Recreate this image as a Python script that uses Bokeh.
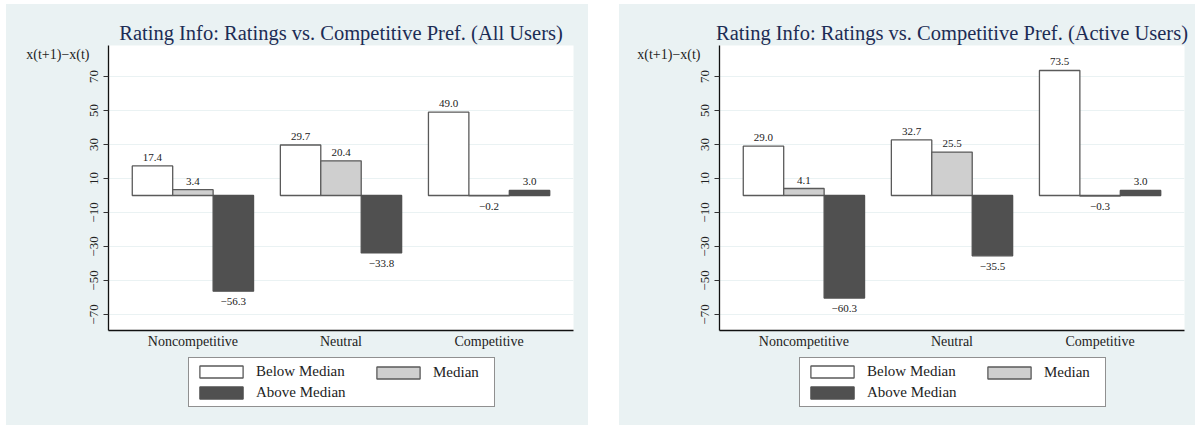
import numpy as np
from bokeh.plotting import figure
from bokeh.models import (ColumnDataSource, FactorRange, Range1d, FixedTicker, Label,
                          Legend, LegendItem, LinearAxis)
from bokeh.transform import dodge
from bokeh.layouts import row, column
from bokeh.embed import file_html
from bokeh.resources import INLINE

# ---------------- data ----------------
categories = ["Noncompetitive", "Neutral", "Competitive"]
series_names = ["Below Median", "Median", "Above Median"]

all_below = [17.4, 29.7, 49.0]
all_median = [3.4, 20.4, -0.2]
all_above = [-56.3, -33.8, 3.0]

active_below = [29.0, 32.7, 73.5]
active_median = [4.1, 25.5, -0.3]
active_above = [-60.3, -35.5, 3.0]

y_ticks = [-70, -50, -30, -10, 10, 30, 50, 70]
y_title = "x(t+1)\u2212x(t)"
titles = ["Rating Info: Ratings vs. Competitive Pref. (All Users)",
          "Rating Info: Ratings vs. Competitive Pref. (Active Users)"]

# ---------------- style ----------------
FONT = "Liberation Serif"
BG = "#EAF2F3"
fills = ["#FFFFFF", "#CFCFCF", "#505050"]
lines = ["#5A5A5A", "#5A5A5A", "#505050"]
offsets = [-0.273, 0.0, 0.273]
BAR_W = 0.273
X_PAD = 0.07
Y_MIN, Y_MAX = -79.4, 88.2
HAS_ORIENT = "axis_label_orientation" in LinearAxis.properties()


def fmt(v):
    return f"{v:.1f}".replace("-", "\u2212")


def make_main(title, below, median, above, width, border_left, border_right):
    p = figure(x_range=FactorRange(factors=categories, range_padding=X_PAD,
                                   range_padding_units="absolute"),
               y_range=Range1d(Y_MIN, Y_MAX),
               width=width, height=348, output_backend="svg", toolbar_location=None,
               min_border_left=border_left, min_border_right=border_right,
               min_border_top=41, min_border_bottom=22,
               background_fill_color="white", border_fill_color=BG,
               outline_line_color=None)
    p.title.text = title
    p.title.align = "center"
    p.title.text_font = FONT
    p.title.text_font_size = "20.5px"
    p.title.text_font_style = "normal"
    p.title.text_color = "#1C2C55"
    p.title.standoff = 4

    for vals, fc, lc, off in zip([below, median, above], fills, lines, offsets):
        src = ColumnDataSource(dict(
            x=categories, top=vals,
            lbl=[fmt(v) for v in vals],
            base=["bottom" if v >= 0 else "top" for v in vals],
            yoff=[-5 if v >= 0 else 7 for v in vals],
        ))
        p.vbar(x=dodge("x", off, range=p.x_range), top="top", bottom=0, width=BAR_W,
               source=src, fill_color=fc, line_color=lc, line_width=1.3)
        p.text(x=dodge("x", off, range=p.x_range), y="top", text="lbl", source=src,
               text_align="center", text_baseline="base", y_offset="yoff",
               text_font_size="11px", text_font=FONT, text_color="#222222")

    # axes
    p.yaxis.ticker = FixedTicker(ticks=y_ticks)
    p.yaxis.major_label_overrides = {t: str(t).replace("-", "\u2212") for t in y_ticks}
    p.yaxis.major_label_orientation = "vertical"
    p.yaxis.major_label_text_font = FONT
    p.yaxis.major_label_text_font_size = "13px"
    p.yaxis.major_label_text_color = "#222222"
    p.yaxis.major_label_standoff = 5
    p.yaxis.major_tick_out = 5
    p.yaxis.major_tick_in = 0
    p.yaxis.major_tick_line_color = "#333333"
    p.yaxis.minor_tick_line_color = None
    p.yaxis.axis_line_color = "#111111"
    p.yaxis.axis_line_width = 1.3

    p.xaxis.major_tick_line_color = None
    p.xaxis.major_tick_out = 0
    p.xaxis.major_tick_in = 0
    p.xaxis.minor_tick_line_color = None
    p.xaxis.major_label_text_font = FONT
    p.xaxis.major_label_text_font_size = "14px"
    p.xaxis.major_label_text_color = "#222222"
    p.xaxis.major_label_standoff = 3
    p.xaxis.axis_line_color = "#111111"
    p.xaxis.axis_line_width = 1.3

    p.xgrid.grid_line_color = None
    p.ygrid.grid_line_color = BG
    p.ygrid.grid_line_width = 1

    if HAS_ORIENT:
        ax = p.yaxis[0]
        # leading empty line drops the text just below the top of the axis
        ax.axis_label = "\n" + y_title
        ax.axis_label_orientation = "horizontal"
        ax.axis_label_align = "end"
        ax.axis_label_standoff = -2
        ax.axis_label_text_font = FONT
        ax.axis_label_text_font_size = "14px"
        ax.axis_label_text_font_style = "normal"
        ax.axis_label_text_color = "#222222"
    else:
        px_per_x = 465 / (3 + 2 * X_PAD)
        px_per_y = 285 / (Y_MAX - Y_MIN)
        p.add_layout(Label(x=-X_PAD - 84 / px_per_x, y=Y_MAX - 7 / px_per_y, text=y_title,
                           text_font=FONT, text_font_size="14px", text_baseline="middle",
                           text_align="left", text_color="#222222"))
    return p


def make_legend_fig(width, border_left, border_right):
    q = figure(width=width, height=73, output_backend="svg", toolbar_location=None,
               x_axis_location=None, y_axis_location=None,
               x_range=Range1d(0, 1), y_range=Range1d(0, 1),
               min_border_left=border_left, min_border_right=border_right,
               min_border_top=0, min_border_bottom=0,
               background_fill_color=BG, border_fill_color=BG, outline_line_color=None)
    q.grid.visible = False
    # legend swatch carriers: one non-drawable (NaN) bar each, only their style is used
    rs = [q.vbar(x=np.array([np.nan]), top=np.array([np.nan]), bottom=0, width=0.1,
                 fill_color=fc, line_color=lc, line_width=1.3)
          for fc, lc in zip(fills, lines)]
    common = dict(glyph_width=54, glyph_height=15, label_standoff=8, margin=0,
                  label_text_font=FONT, label_text_font_size="15px",
                  label_text_color="#222222")
    leg1 = Legend(items=[LegendItem(label=series_names[0], renderers=[rs[0]]),
                         LegendItem(label=series_names[2], renderers=[rs[2]])],
                  location=(80, 18), orientation="vertical", label_width=233,
                  spacing=4, padding=5,
                  border_line_color="#222222", border_line_width=1,
                  background_fill_color="white", background_fill_alpha=1, **common)
    leg2 = Legend(items=[LegendItem(label=series_names[1], renderers=[rs[1]])],
                  location=(263, 44), orientation="vertical", spacing=0, padding=0,
                  border_line_color=None, background_fill_alpha=0, **common)
    q.add_layout(leg1)
    q.add_layout(leg2)
    return q


p1 = make_main(titles[0], all_below, all_median, all_above, 582, 102, 15)
p2 = make_main(titles[1], active_below, active_median, active_above, 576, 100, 11)
l1 = make_legend_fig(582, 102, 15)
l2 = make_legend_fig(576, 100, 11)
layout = row(column(p1, l1, spacing=0, styles={"background-color": BG}),
             column(p2, l2, spacing=0, styles={"background-color": BG}),
             spacing=31, margin=(4, 0, 0, 6))

open("out.html", "w").write(file_html(layout, INLINE))
